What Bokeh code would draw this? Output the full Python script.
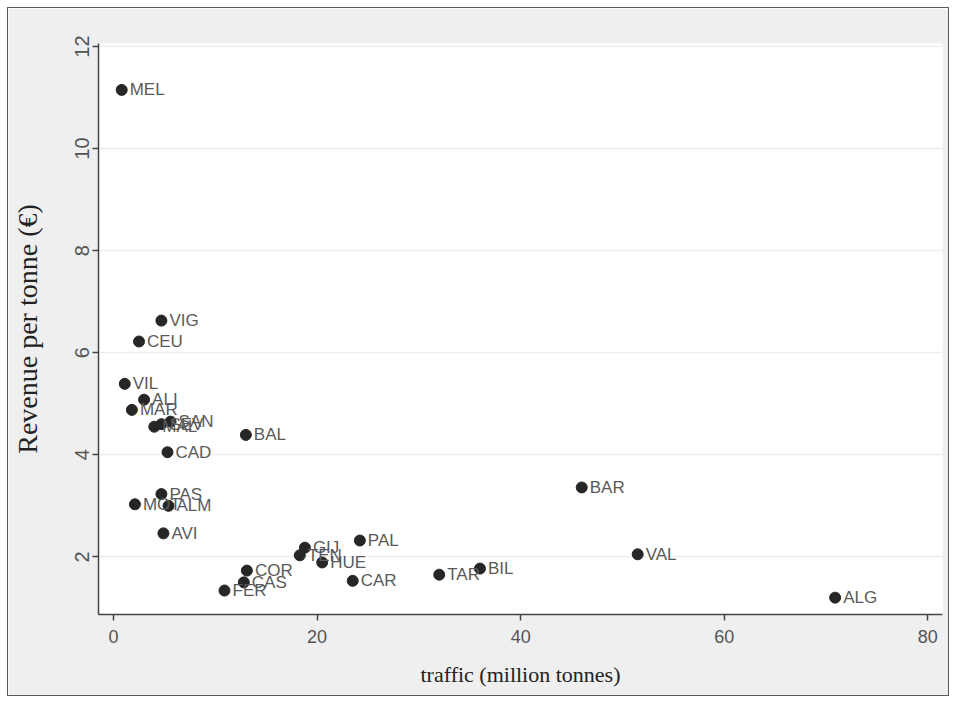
from bokeh.plotting import figure
from bokeh.models import ColumnDataSource, FixedTicker, Range1d
from bokeh.core.properties import value
from bokeh.embed import file_html
from bokeh.resources import INLINE

ports = ["MEL", "VIG", "CEU", "VIL", "ALI", "MAR", "MAL", "SEV", "SAN", "BAL",
         "CAD", "BAR", "PAS", "MOT", "ALM", "AVI", "PAL", "GIJ", "TEN", "HUE",
         "VAL", "COR", "BIL", "TAR", "CAR", "CAS", "FER", "ALG"]
traffic = [0.8, 4.7, 2.5, 1.1, 3.0, 1.8, 4.0, 4.7, 5.6, 13.0,
           5.3, 46.0, 4.7, 2.1, 5.4, 4.9, 24.2, 18.8, 18.3, 20.5,
           51.5, 13.1, 36.0, 32.0, 23.5, 12.8, 10.9, 70.9]
revenue = [11.15, 6.63, 6.22, 5.39, 5.08, 4.88, 4.55, 4.60, 4.65, 4.39,
           4.05, 3.36, 3.23, 3.03, 3.00, 2.46, 2.32, 2.18, 2.03, 1.89,
           2.05, 1.73, 1.77, 1.65, 1.53, 1.50, 1.34, 1.20]
x_ticks = [0, 20, 40, 60, 80]
y_ticks = [2, 4, 6, 8, 10, 12]

src = ColumnDataSource(dict(x=traffic, y=revenue, lab=ports))

p = figure(width=942, height=689, output_backend="svg", toolbar_location=None,
           x_range=Range1d(-1.48, 81.45), y_range=Range1d(0.87, 12.06),
           min_border_left=89, min_border_right=8, min_border_top=35,
           min_border_bottom=83)
p.styles = {"border": "1px solid #5a5a5a", "box-sizing": "border-box",
            "margin": "7px 0 0 7px"}
p.background_fill_color = "white"
p.border_fill_color = "#efefef"
p.outline_line_color = None

p.xgrid.grid_line_color = None
p.ygrid.ticker = FixedTicker(ticks=y_ticks)
p.ygrid.grid_line_color = "#eeeeee"
p.ygrid.grid_line_width = 1.5

p.xaxis.ticker = FixedTicker(ticks=x_ticks)
p.yaxis.ticker = FixedTicker(ticks=y_ticks)
for ax in (p.xaxis[0], p.yaxis[0]):
    ax.axis_line_color = "#444444"
    ax.axis_line_width = 1.5
    ax.major_tick_line_color = "#444444"
    ax.major_tick_line_width = 1.5
    ax.major_tick_out = 6
    ax.major_tick_in = 0
    ax.minor_tick_line_color = None
    ax.major_label_text_font = "Liberation Sans"
    ax.major_label_text_font_size = "18px"
    ax.major_label_text_color = "#555555"
    ax.axis_label_text_font = "Liberation Serif"
    ax.axis_label_text_font_style = "normal"
    ax.axis_label_text_color = "#222222"

p.yaxis.major_label_orientation = "vertical"
p.yaxis.major_label_text_font_size = "20px"
p.yaxis.major_label_standoff = 3
p.yaxis.axis_label_standoff = 30
p.yaxis.axis_label_text_font_size = "28px"
p.xaxis.major_label_standoff = 9
p.xaxis.axis_label_standoff = 16
p.xaxis.axis_label_text_font_size = "22px"
p.xaxis.axis_label = "traffic (million tonnes)"
p.yaxis.axis_label = "Revenue per tonne (€)"

p.scatter("x", "y", source=src, size=11, fill_color="#262626",
          line_color="#262626")
p.text("x", "y", text="lab", source=src, x_offset=8, text_baseline="middle",
       text_font=value("Liberation Sans"), text_font_size="17px",
       text_color="#5a5a5a")

open("out.html", "w").write(file_html(p, INLINE))
